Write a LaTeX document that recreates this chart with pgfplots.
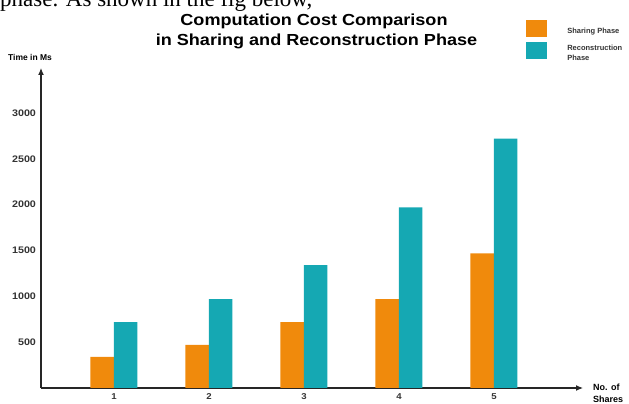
\documentclass[border=0pt]{standalone}
\usepackage{pgfplots}
\pgfplotsset{compat=1.18}
\usepackage{fontspec}
\setmainfont{Liberation Sans}
\newfontfamily\seriffont{Liberation Serif}
\newfontfamily\widefont[FakeStretch=1.13]{Liberation Sans}
\usetikzlibrary{arrows.meta}
\definecolor{orangebar}{HTML}{F08A0C}
\definecolor{tealbar}{HTML}{15A8B3}
\begin{document}
\begin{tikzpicture}[x=1pt,y=1pt]
\useasboundingbox (0,0) rectangle (629,404);
\node[anchor=base west, inner sep=0pt, font=\seriffont\fontsize{23}{23}\selectfont] at (0,397.5) {phase. As shown in the fig below,};
\node[anchor=base, inner sep=0pt, font=\widefont\bfseries\fontsize{16}{16}\selectfont] at (314,378.3) {Computation Cost Comparison};
\node[anchor=base, inner sep=0pt, font=\widefont\bfseries\fontsize{16}{16}\selectfont] at (316.5,358.3) {in Sharing and Reconstruction Phase};
\node[anchor=west, inner sep=0pt, font=\bfseries\fontsize{8.5}{8.5}\selectfont] at (8,347) {Time in Ms};
\node[anchor=west, inner sep=0pt, align=left, font=\bfseries\fontsize{9}{12}\selectfont] at (593,11) {No. of\\Shares};
\begin{axis}[
  at={(41pt,16pt)}, anchor=south west,
  width=542pt, height=320pt, scale only axis,
  xmin=0.2316, xmax=5.937, ymin=0, ymax=3491,
  axis x line=bottom, axis y line=left,
  axis line style={line width=1.1pt, black!85, -{Latex[length=7pt,width=6pt]}},
  xtick={1,2,3,4,5}, ytick={500,1000,1500,2000,2500,3000},
  major tick length=0pt,
  scaled ticks=false,
  /pgf/number format/1000 sep={},
  /pgf/number format/assume math mode=true,
  ticklabel style={font=\widefont\bfseries\fontsize{9.5}{9.5}\selectfont, text=black!80},
  yticklabel style={xshift=-1.5pt},
  xticklabel style={yshift=-2pt, font=\widefont\bfseries\fontsize{8.5}{8.5}\selectfont},
  ybar=0pt, bar width=23.5pt,
  legend style={at={(0.895,1.15)}, anchor=north west, draw=none, fill=none,
    inner sep=0pt, font=\bfseries\fontsize{7.5}{9.5}\selectfont,
    nodes={align=left, text=black!80}, row sep=5pt,
    /tikz/every odd column/.style={column sep=18pt}},
  legend cell align=left,
  legend image code/.code={\fill[#1] (0pt,-5.5pt) rectangle (21pt,11.5pt);},
]
\addplot[fill=orangebar, draw=none] coordinates {(1,340) (2,470) (3,720) (4,970) (5,1470)};
\addplot[fill=tealbar, draw=none] coordinates {(1,720) (2,970) (3,1340) (4,1970) (5,2720)};
\legend{Sharing Phase, Reconstruction\\Phase}
\end{axis}
\end{tikzpicture}
\end{document}
